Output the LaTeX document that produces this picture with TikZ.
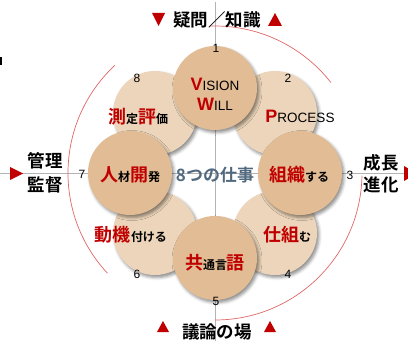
\documentclass[tikz,border=0pt]{standalone}
\usepackage{fontspec}
\setmainfont{Liberation Sans}
\newfontfamily\jp{Noto Sans CJK JP}[BoldFont={Noto Sans CJK JP Bold}]
\usetikzlibrary{shadows.blur}
\definecolor{tandark}{HTML}{E2BC94}
\definecolor{tanlight}{HTML}{ECD5BA}
\definecolor{jred}{HTML}{C00000}
\definecolor{arcred}{HTML}{E06666}
\definecolor{slate}{HTML}{51697E}
\definecolor{axisgray}{HTML}{B4B4B4}
\newcommand\rbig[1]{{\color{jred}\fontsize{18}{18}\selectfont #1}}
\newcommand\ssmall[1]{{\fontsize{12}{12}\selectfont #1}}
\newcommand\lbig[1]{{\color{jred}\fontsize{18}{18}\selectfont\bfseries #1}}
\newcommand\lsmall[1]{{\fontsize{13.5}{13.5}\selectfont #1}}
\begin{document}
\begin{tikzpicture}[x=1pt,y=1pt,
  shadowed/.style={blur shadow={shadow xshift=2pt, shadow yshift=-2.5pt, shadow opacity=45, shadow blur radius=3pt}},
  dk/.style={circle, fill=tandark, minimum size=84pt, inner sep=0pt, shadowed},
  lt/.style={circle, fill=tanlight, minimum size=84pt, inner sep=0pt, shadowed},
  num/.style={font=\fontsize{12}{12}\selectfont, inner sep=0pt},
  ctext/.style={font=\jp\bfseries, inner sep=0pt},
  side/.style={font=\jp\bfseries\fontsize{17.5}{17.5}\selectfont, inner sep=0pt},
  axis/.style={draw=axisgray, line width=0.5pt},
  redarc/.style={draw=arcred, line width=0.7pt},
  tri/.style={fill=jred}]
\useasboundingbox (0,0) rectangle (408,341);
% axes
\coordinate (vt) at (215,339);
\coordinate (vb) at (215,0);
\coordinate (hl) at (0,168);
\coordinate (hr) at (408,168);
\coordinate (O) at (215,168);
\draw[axis] (vt) -- (vb);
\draw[axis] (hl) -- (hr);
% red arcs
\draw[redarc] ([shift={(92:147)}]O) arc[start angle=92, end angle=38, radius=147];
\draw[redarc] ([shift={(-1:147)}]O) arc[start angle=-1, end angle=-90, radius=147];
\draw[redarc] ([shift={(133:147)}]O) arc[start angle=133, end angle=223, radius=147];
% light circles
\node[lt] (ul) at (155,228) {};
\node[lt] (ur) at (275,228) {};
\node[lt] (lr) at (275,108) {};
\node[lt] (ll) at (155,108) {};
% dark circles
\node[dk] (top) at (215,253) {};
\node[dk] (bot) at (215,83) {};
\node[dk] (lft) at (130,168) {};
\node[dk] (rgt) at (300,168) {};
% circle texts
\node[inner sep=0pt] (vision) at (215,257) {\lbig{V}\lsmall{ISION}};
\node[inner sep=0pt] (will) at (215,237) {\lbig{W}\lsmall{ILL}};
\node[inner sep=0pt] (process) at (300,225) {\lbig{P}\lsmall{ROCESS}};
\node[ctext] (sokutei) at (138,224) {\rbig{測}\ssmall{定}\rbig{評}\ssmall{価}};
\node[ctext] (jinzai) at (130,166) {\rbig{人}\ssmall{材}\rbig{開}\ssmall{発}};
\node[ctext, text=slate, font=\jp\bfseries\fontsize{17}{17}\selectfont] (center) at (215,166) {8つの仕事};
\node[ctext] (soshiki) at (299,166) {\rbig{組織}\ssmall{する}};
\node[ctext] (douki) at (131,106) {\rbig{動機}\ssmall{付ける}};
\node[ctext] (shikumu) at (287,106) {\rbig{仕組}\ssmall{む}};
\node[ctext] (kyoutsu) at (215,78) {\rbig{共}\ssmall{通言}\rbig{語}};
% numbers
\node[num] (n1) at (216,293) {1};
\node[num] (n2) at (288,263) {2};
\node[num] (n3) at (350,166) {3};
\node[num] (n4) at (288,67) {4};
\node[num] (n5) at (216,40) {5};
\node[num] (n6) at (137,67) {6};
\node[num] (n7) at (82,167) {7};
\node[num] (n8) at (137,263) {8};
% outer labels
\node[side] (gimon) at (217,321) {疑問／知識};
\node[side] (giron) at (217,9) {議論の場};
\node[side] (kanri) at (45,180) {管理};
\node[side] (kantoku) at (45,156) {監督};
\node[side] (seicho) at (381,178) {成長};
\node[side] (shinka) at (381,156) {進化};
% red triangles
\fill[tri] (152,328) -- (165,328) -- (158.5,315) -- cycle;
\fill[tri] (268,315) -- (282,315) -- (275,328) -- cycle;
\fill[tri] (157,9) -- (169,9) -- (163,20) -- cycle;
\fill[tri] (264,9) -- (276,9) -- (270,20) -- cycle;
\fill[tri] (10,174) -- (10,161) -- (23,167.5) -- cycle;
\fill[tri] (404,175) -- (404,160) -- (417,167.5) -- cycle;
% clipped fragment at left edge
\fill[black] (0,276) rectangle (2,284);
\end{tikzpicture}
\end{document}
